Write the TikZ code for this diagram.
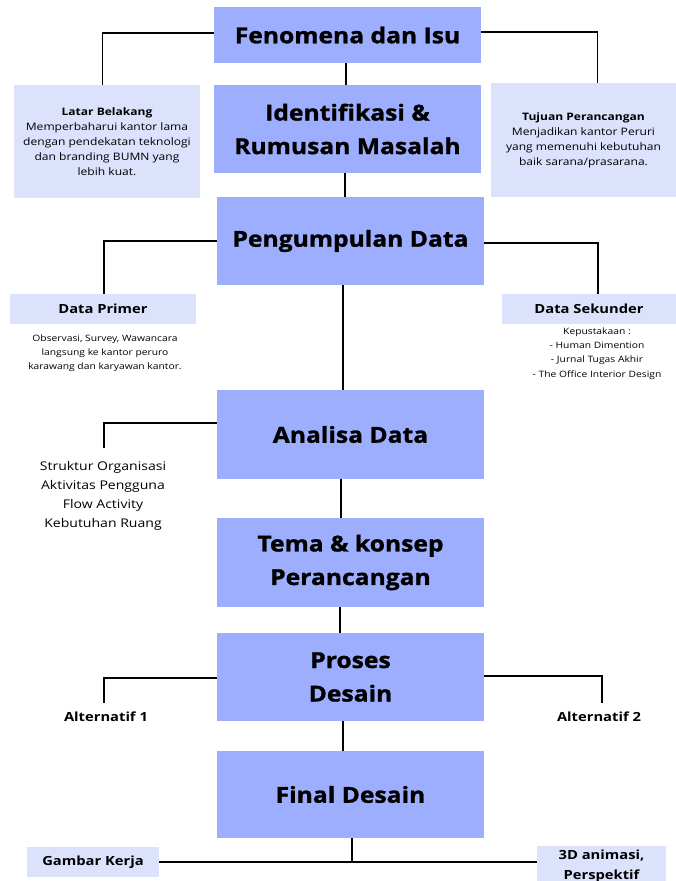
\documentclass[tikz,border=0pt]{standalone}
\usepackage{fontspec}
\setmainfont{Open Sans}[FakeStretch=1.17]
\newfontfamily\headfont{Open Sans}[FakeStretch=1.12,FakeBold=1.2]
\definecolor{mainc}{HTML}{9DAEFF}
\definecolor{lightc}{HTML}{DCE1FC}
\tikzset{
  mainbox/.style={fill=mainc, draw=none, minimum width=267pt, minimum height=88pt, inner sep=0pt, align=center, font=\headfont\fontsize{22}{33.5}\selectfont\bfseries},
  lightbox/.style={fill=lightc, draw=none, inner sep=0pt, align=center},
  plain/.style={inner sep=0pt, align=center},
  conn/.style={line width=1.8pt, black},
}
\begin{document}
\begin{tikzpicture}[x=1pt,y=-1pt]
\useasboundingbox (0,0) rectangle (676,881);
% main boxes
\node[mainbox, minimum height=56pt] (fen) at (347.5,35) {Fenomena dan Isu};
\node[mainbox] (iden) at (347.5,129) {Identifikasi \&\\Rumusan Masalah};
\node[mainbox] (peng) at (350.5,241) {Pengumpulan Data};
\node[mainbox, minimum height=89pt] (anal) at (350.5,434.5) {Analisa Data};
\node[mainbox, minimum height=89pt] (tema) at (350.5,562.5) {Tema \& konsep\\Perancangan};
\node[mainbox] (pros) at (350.5,677) {Proses\\Desain};
\node[mainbox, minimum height=87pt] (fin) at (350.5,794.5) {Final Desain};
% light boxes
\node[lightbox, minimum width=186pt, minimum height=113pt, font=\fontsize{10.3}{15}\selectfont] (latar) at (107,141.5) {\textbf{Latar Belakang}\\Memperbaharui kantor lama\\dengan pendekatan teknologi\\dan branding BUMN yang\\lebih kuat.};
\node[lightbox, minimum width=185pt, minimum height=114pt, font=\fontsize{10.3}{15}\selectfont] (tujuan) at (583.5,140) {\textbf{Tujuan Perancangan}\\Menjadikan kantor Peruri\\yang memenuhi kebutuhan\\baik sarana/prasarana.};
\node[lightbox, minimum width=186pt, minimum height=30pt, font=\fontsize{12.6}{14}\selectfont\bfseries] (prim) at (103,309) {Data Primer};
\node[lightbox, minimum width=174pt, minimum height=30pt, font=\fontsize{12.6}{14}\selectfont\bfseries] (sek) at (589,309) {Data Sekunder};
\node[lightbox, minimum width=132pt, minimum height=30pt, font=\fontsize{12.6}{14}\selectfont\bfseries] (gamb) at (93,862) {Gambar Kerja};
\node[lightbox, minimum width=129pt, minimum height=40pt, font=\fontsize{12.6}{20}\selectfont\bfseries] (anim) at (601.5,866) {3D animasi,\\Perspektif};
% plain texts
\node[plain, font=\fontsize{8.8}{14}\selectfont] (primtxt) at (105,353) {Observasi, Survey, Wawancara\\langsung ke kantor peruro\\karawang dan karyawan kantor.};
\node[plain, font=\fontsize{8.8}{14.3}\selectfont] (sektxt) at (597,353.5) {Kepustakaan :\\- Human Dimention\\- Jurnal Tugas Akhir\\- The Office Interior Design};
\node[plain, font=\fontsize{12}{19}\selectfont] (analtxt) at (103,495.5) {Struktur Organisasi\\Aktivitas Pengguna\\Flow Activity\\Kebutuhan Ruang};
\node[plain, font=\fontsize{12.6}{14}\selectfont\bfseries] (alt1) at (106,717) {Alternatif 1};
\node[plain, font=\fontsize{12.6}{14}\selectfont\bfseries] (alt2) at (599,717) {Alternatif 2};
% connector end coordinates
\coordinate (a1) at (104,448);
\coordinate (p1) at (104,703);
\coordinate (p2) at (602,703);
% connectors
\draw[conn] ([yshift=2pt]fen.west) -| ([xshift=-4.5pt]latar.north);
\draw[conn] ([yshift=3pt]fen.east) -| ([xshift=14pt]tujuan.north);
\draw[conn] ([xshift=-1.5pt]fen.south) -- ([xshift=-1.5pt]iden.north);
\draw[conn] ([xshift=-2.5pt]iden.south) -- ([xshift=-2.5pt]iden.south |- peng.north);
\draw[conn] (peng.west) -| ([xshift=1pt]prim.north);
\draw[conn] ([yshift=-2pt]peng.east) -| ([xshift=9pt]sek.north);
\draw[conn] ([xshift=-7.5pt]peng.south) -- ([xshift=-7.5pt]anal.north);
\draw[conn] ([yshift=11.5pt]anal.west) -| (a1);
\draw[conn] ([xshift=-9.5pt]anal.south) -- ([xshift=-9.5pt]tema.north);
\draw[conn] ([xshift=-10.5pt]tema.south) -- ([xshift=-10.5pt]pros.north);
\draw[conn] ([yshift=-1pt]pros.west) -| (p1);
\draw[conn] ([yshift=1pt]pros.east) -| (p2);
\draw[conn] ([xshift=-7.5pt]pros.south) -- ([xshift=-7.5pt]fin.north);
\draw[conn] ([xshift=1.5pt]fin.south) -- ([xshift=1.5pt]fin.south |- gamb.east);
\draw[conn] (gamb.east) -- (gamb.east -| anim.west);
\end{tikzpicture}
\end{document}
